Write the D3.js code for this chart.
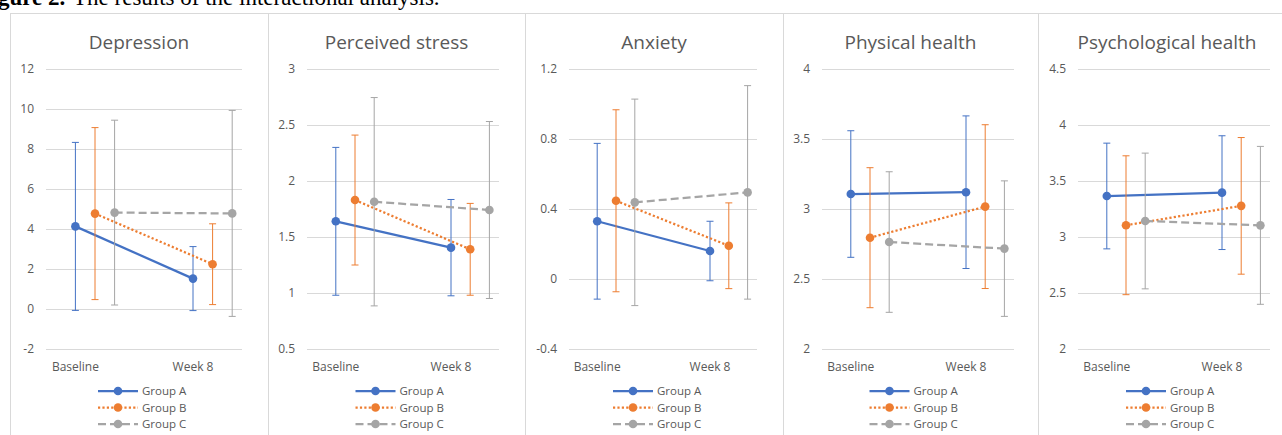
<!DOCTYPE html>
<html>
<head>
<meta charset="utf-8">
<script src="https://cdn.jsdelivr.net/npm/d3@7"></script>
<style>
  body { margin: 0; background: #fff; }
  svg { display: block; }
</style>
</head>
<body>
<svg id="chart" width="1282" height="435"></svg>
<script>
var panelTitles = ["Depression", "Perceived stress", "Anxiety", "Physical health", "Psychological health"]
var times = ["Baseline", "Week 8"]
var groups = ["Group A", "Group B", "Group C"]

// mean at [Baseline, Week 8] for each panel
var meanA = [[4.13, 1.52], [1.64, 1.405], [0.33, 0.16], [3.107, 3.12], [3.366, 3.396]]
var meanB = [[4.77, 2.24], [1.83, 1.39], [0.447, 0.19], [2.795, 3.017], [3.105, 3.278]]
var meanC = [[4.82, 4.78], [1.815, 1.741], [0.438, 0.495], [2.764, 2.717], [3.143, 3.104]]
// error bar (sd) at [Baseline, Week 8]
var sdA = [[4.2, 1.6], [0.66, 0.43], [0.445, 0.17], [0.452, 0.545], [0.472, 0.508]]
var sdB = [[4.3, 2.02], [0.58, 0.41], [0.52, 0.245], [0.5, 0.585], [0.62, 0.61]]
var sdC = [[4.62, 5.15], [0.93, 0.79], [0.59, 0.61], [0.502, 0.484], [0.606, 0.705]]

var yTicks = [
  [-2, 0, 2, 4, 6, 8, 10, 12],
  [0.5, 1, 1.5, 2, 2.5, 3],
  [-0.4, 0, 0.4, 0.8, 1.2],
  [2, 2.5, 3, 3.5, 4],
  [2, 2.5, 3, 3.5, 4, 4.5]
]

var means = [meanA, meanB, meanC]
var sds = [sdA, sdB, sdC]
var colors = ["#4472C4", "#ED7D31", "#A5A5A5"]
var dashes = [null, "2.2 2.2", "8 4"]

// panel frames and plot areas (pixels)
var frames = [[10, 268], [268, 525], [525, 783], [783, 1038], [1038, 1296]]
var plots = [[46, 242], [307, 499], [569, 757], [822, 1014], [1078, 1270]]
var plotTop = 69, plotBottom = 349

var svg = d3.select("#chart")
svg.append("rect").attr("width", 1282).attr("height", 435).attr("fill", "#fff")

// caption cut off at the top, as in the source
var cap = svg.append("text")
  .attr("y", 5)
  .attr("font-family", "Liberation Serif, Times New Roman, serif")
  .attr("font-size", 23)
  .attr("fill", "#000")
cap.append("tspan").attr("x", -2).attr("font-weight", "bold").text("gure 2.")
cap.append("tspan").attr("x", 73).text("The results of the interactional analysis.")

var line = d3.line()

for (var p = 0; p < panelTitles.length; p++) {
  var g = svg.append("g")
  var fx = frames[p], px = plots[p]
  var cx = (fx[0] + fx[1]) / 2

  g.append("rect")
    .attr("x", fx[0] + 0.5).attr("y", 13.5)
    .attr("width", fx[1] - fx[0]).attr("height", 460)
    .attr("fill", "none").attr("stroke", "#d9d9d9").attr("stroke-width", 1)

  var ticks = yTicks[p]
  var y = d3.scaleLinear().domain([ticks[0], ticks[ticks.length - 1]]).range([plotBottom, plotTop])
  // 10 slots across the plot: times at 1.5 and 7.5, groups one slot apart
  var x = d3.scaleLinear().domain([0, 10]).range(px)
  var tPos = [1.5, 7.5]

  g.append("text")
    .attr("x", cx).attr("y", 49)
    .attr("text-anchor", "middle")
    .attr("font-family", "Open Sans, sans-serif")
    .attr("font-size", 19)
    .attr("fill", "#595959")
    .text(panelTitles[p])

  var yAxis = g.append("g")
    .attr("transform", "translate(" + px[0] + ",0)")
    .call(d3.axisLeft(y).tickValues(ticks).tickSize(-(px[1] - px[0])).tickPadding(12)
      .tickFormat(function(d) { return String(d) }))
  yAxis.select(".domain").remove()
  yAxis.selectAll("line").attr("stroke", "#d9d9d9").attr("stroke-width", 1)
  yAxis.selectAll("text")
    .attr("font-family", "Open Sans, sans-serif")
    .attr("font-size", 12)
    .attr("fill", "#595959")

  g.selectAll(".xlab")
    .data(times)
    .enter().append("text")
    .attr("class", "xlab")
    .attr("x", function(d, i) { return x(tPos[i]) })
    .attr("y", 371)
    .attr("text-anchor", "middle")
    .attr("font-family", "Open Sans, sans-serif")
    .attr("font-size", 12)
    .attr("fill", "#595959")
    .text(function(d) { return d })

  for (var k = 0; k < groups.length; k++) {
    var pts = means[k][p].map(function(m, i) {
      return { x: x(tPos[i] + k), m: m, sd: sds[k][p][i] }
    })
    var gg = g.append("g")

    // error bars
    pts.forEach(function(d) {
      var top = y(d.m + d.sd), bot = y(d.m - d.sd)
      gg.append("line").attr("x1", d.x).attr("x2", d.x).attr("y1", top).attr("y2", bot)
        .attr("stroke", colors[k]).attr("stroke-width", 1)
      gg.append("line").attr("x1", d.x - 3.5).attr("x2", d.x + 3.5).attr("y1", top).attr("y2", top)
        .attr("stroke", colors[k]).attr("stroke-width", 1)
      gg.append("line").attr("x1", d.x - 3.5).attr("x2", d.x + 3.5).attr("y1", bot).attr("y2", bot)
        .attr("stroke", colors[k]).attr("stroke-width", 1)
    })

    gg.append("path")
      .attr("d", line(pts.map(function(d) { return [d.x, y(d.m)] })))
      .attr("fill", "none")
      .attr("stroke", colors[k])
      .attr("stroke-width", 2.25)
      .attr("stroke-dasharray", dashes[k])

    gg.selectAll("circle")
      .data(pts)
      .enter().append("circle")
      .attr("cx", function(d) { return d.x })
      .attr("cy", function(d) { return y(d.m) })
      .attr("r", 4.3)
      .attr("fill", colors[k])

    // legend
    var ly = 391 + k * 16.5, lx = cx - 41
    g.append("line")
      .attr("x1", lx).attr("x2", lx + 40).attr("y1", ly).attr("y2", ly)
      .attr("stroke", colors[k]).attr("stroke-width", 2.25)
      .attr("stroke-dasharray", dashes[k])
    g.append("circle").attr("cx", lx + 20).attr("cy", ly).attr("r", 4.3).attr("fill", colors[k])
    g.append("text")
      .attr("x", lx + 44).attr("y", ly + 4)
      .attr("font-family", "Open Sans, sans-serif")
      .attr("font-size", 11.5)
      .attr("fill", "#595959")
      .text(groups[k])
  }
}
</script>
</body>
</html>
